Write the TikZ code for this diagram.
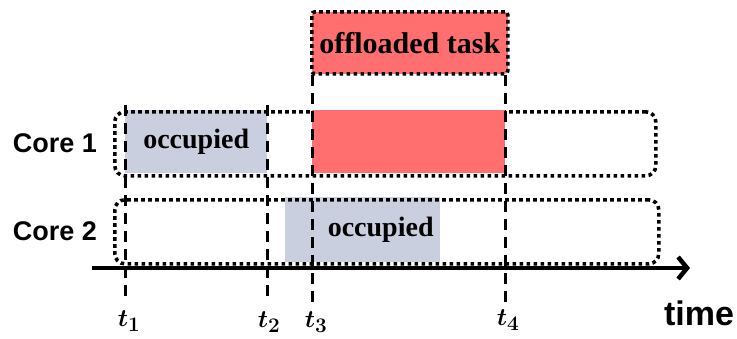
\documentclass[tikz,border=0pt]{standalone}
\usepackage{fontspec}
\setmainfont{Liberation Serif}
\setsansfont{Liberation Sans}
\usetikzlibrary{arrows.meta}
\definecolor{busy}{RGB}{201,207,223}
\definecolor{task}{RGB}{255,111,111}
\tikzset{
  dotline/.style={line width=3.6pt, dash pattern=on 3.6pt off 3.4pt},
  corebox/.style={draw, dotline, rounded corners=10pt},
  slot/.style={inner sep=0pt, anchor=north west},
  tickline/.style={line width=3pt, dash pattern=on 11pt off 7pt},
  corelabel/.style={font=\fontsize{27}{27}\sffamily\bfseries},
  boxtext/.style={font=\fontsize{28}{28}\rmfamily\bfseries},
  tlabel/.style={font=\fontsize{30}{30}\selectfont\boldmath},
}
\begin{document}
\begin{tikzpicture}[x=1pt,y=-1pt]
\useasboundingbox (0,0) rectangle (737,338);
% busy slots
\node[slot, fill=busy, minimum width=142pt, minimum height=63pt] (occ1) at (125,110) {};
\node[boxtext] at (occ1.center) {occupied};
\node[slot, fill=busy, minimum width=155pt, minimum height=65pt] (occ2) at (285,197) {};
\node[boxtext] at ([xshift=18pt]occ2.center) {occupied};
% core lanes
\node[slot, corebox, minimum width=541pt, minimum height=64pt] (core1) at (113,110) {};
\node[slot, corebox, minimum width=544pt, minimum height=64pt] (core2) at (113,198) {};
\node[slot, fill=task, minimum width=193pt, minimum height=63pt] (run) at (312,110) {};
% offloaded task
\node[slot, fill=task, draw, dotline, rounded corners=3pt, minimum width=196pt, minimum height=62pt] (off) at (310,10) {};
\node[boxtext, font=\fontsize{30}{30}\rmfamily\bfseries] at (off.center) {offloaded task};
% lane labels
\node[corelabel] (c1) at (55,143) {Core 1};
\node[corelabel] (c2) at (55,231) {Core 2};
% time axis
\coordinate (a0) at (92,268);
\coordinate (a1) at (690,268);
\draw[line width=4.5pt, -{Straight Barb[length=9pt,width=22pt,line width=4.5pt]}] (a0) -- (a1);
\node[font=\fontsize{34}{34}\sffamily\bfseries] (time) at (699,313) {time};
% time instants
\coordinate (p1) at (125,105); \coordinate (q1) at (125,302);
\coordinate (p2) at (267,105); \coordinate (q2) at (267,302);
\coordinate (p3) at (312,75);  \coordinate (q3) at (312,302);
\coordinate (p4) at (505,75);  \coordinate (q4) at (505,302);
\draw[tickline] (p1) -- (q1);
\draw[tickline] (p2) -- (q2);
\draw[tickline] (p3) -- (q3);
\draw[tickline] (p4) -- (q4);
\node[tlabel] (t1) at (129,321) {$t_1$};
\node[tlabel] (t2) at (269,322) {$t_2$};
\node[tlabel] (t3) at (316,322) {$t_3$};
\node[tlabel] (t4) at (508,320) {$t_4$};
\end{tikzpicture}
\end{document}
